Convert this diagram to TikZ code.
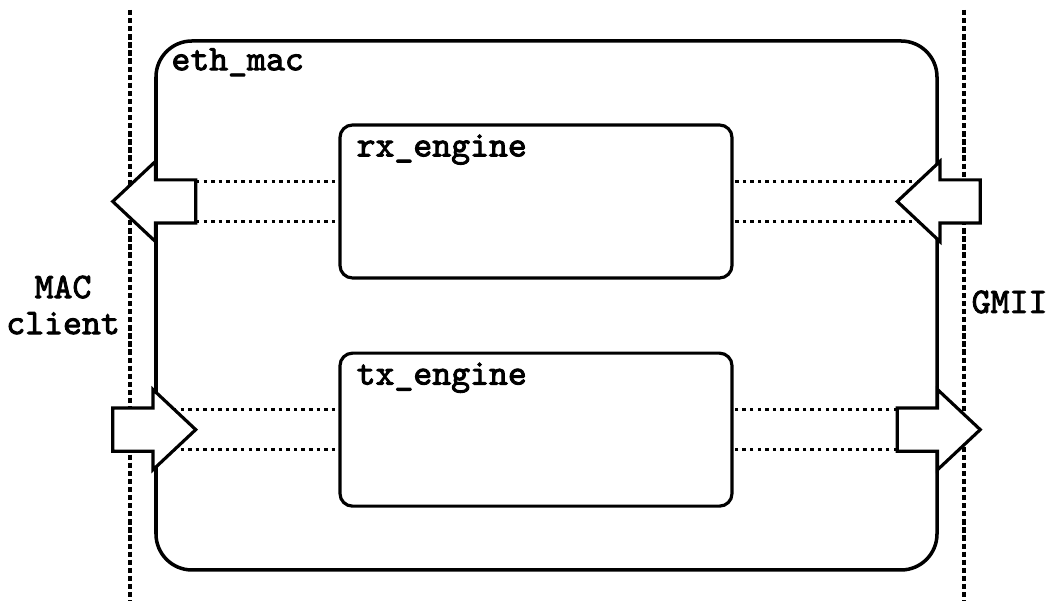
\documentclass[tikz,border=0pt]{standalone}
\usepackage{fontspec}
\setmonofont{lmmono10-regular.otf}[BoldFont=lmmono10-regular.otf, BoldFeatures={FakeBold=2.5}]
\usetikzlibrary{shapes.arrows, backgrounds, positioning}

\begin{document}
\begin{tikzpicture}[
    font=\ttfamily\bfseries\fontsize{20.5}{20.5}\selectfont,
    block/.style={draw, line width=2pt, rounded corners=0.72cm,
                  minimum width=15.62cm, minimum height=10.58cm, inner sep=0pt},
    engine/.style={draw, line width=1.8pt, rounded corners=0.25cm,
                   minimum width=7.84cm, minimum height=3.06cm, inner sep=0pt},
    port/.style={single arrow, draw, fill=white, line width=1.8pt,
                 inner xsep=0pt, inner ysep=0.4cm, minimum height=1.66cm,
                 single arrow head extend=0.37cm, single arrow tip angle=86.4},
    portin/.style={port, shape border rotate=180, xshift=0.23cm},
    portout/.style={port, xshift=-0.23cm},
    boundary/.style={line width=2pt, dash pattern=on 3pt off 1.6pt},
    bus/.style={line width=2pt, dash pattern=on 2pt off 2.3pt}
  ]
  \useasboundingbox (0,0) rectangle (20.92,12.02);

  % interface boundaries
  \coordinate (clienttop) at (2.60,11.82);
  \coordinate (clientbot) at (2.60,0);
  \coordinate (gmiitop) at (19.28,11.82);
  \coordinate (gmiibot) at (19.28,0);
  \draw[boundary] (clienttop) -- (clientbot);
  \draw[boundary] (gmiitop) -- (gmiibot);

  \node[align=center, anchor=east] (clientlabel) at (2.52,5.92) {MAC\\client};
  \node[anchor=base west] (gmiilabel) at (19.31,5.76) {GMII};

  % mac block and its engines
  \node[block] (mac) at (10.93,5.91) {};
  \node[anchor=base west] (maclabel) at ([xshift=0.22cm, yshift=-0.62cm]mac.north west) {eth\_mac};

  \node[engine] (rx) at (10.72,7.99) {};
  \node[engine, below=1.44cm of rx] (tx) {};
  \node[anchor=base west] (rxlabel) at ([xshift=0.24cm, yshift=-0.66cm]rx.north west) {rx\_engine};
  \node[anchor=base west] (txlabel) at ([xshift=0.24cm, yshift=-0.66cm]tx.north west) {tx\_engine};

  % ports on the block edge
  \node[portin] (rxclient) at (mac.west |- rx) {};
  \node[portin] (rxgmii) at (mac.east |- rx) {};
  \node[portout] (txclient) at (mac.west |- tx) {};
  \node[portout] (txgmii) at (mac.east |- tx) {};

  % data paths
  \begin{scope}[on background layer]
    \foreach \prt/\side in {rxclient/rx.west, rxgmii/rx.east, txclient/tx.west, txgmii/tx.east}
      \foreach \dy in {0.4,-0.4}
        \draw[bus] ([yshift=\dy cm]\prt.center) -- ([yshift=\dy cm]\prt.center -| \side);
  \end{scope}
\end{tikzpicture}
\end{document}
